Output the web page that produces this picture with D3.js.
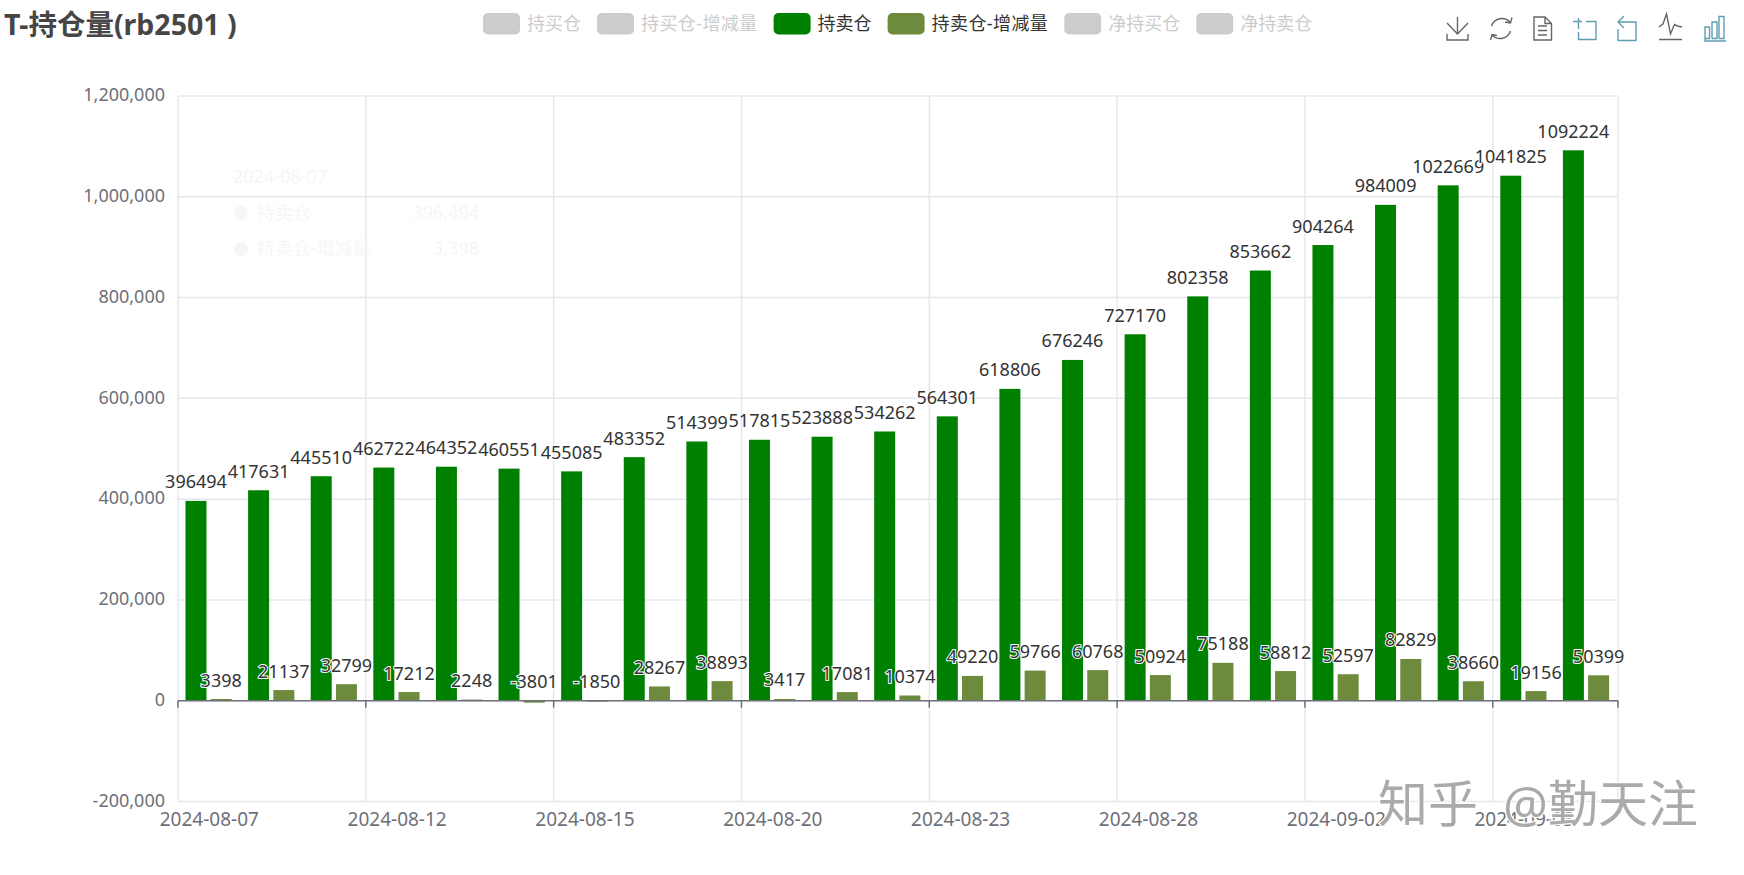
<!DOCTYPE html>
<html>
<head>
<meta charset="utf-8">
<title>T-持仓量(rb2501 )</title>
<script src="https://cdn.jsdelivr.net/npm/d3@7"></script>
<style>
html, body { margin: 0; padding: 0; background: #fff; }
svg { display: block; }
text { font-family: "Noto Sans", "Noto Sans CJK SC", sans-serif; }
</style>
</head>
<body>
<div id="chart"></div>
<script>
const dates = ["2024-08-07", "2024-08-08", "2024-08-09", "2024-08-12", "2024-08-13", "2024-08-14",
    "2024-08-15", "2024-08-16", "2024-08-19", "2024-08-20", "2024-08-21", "2024-08-22", "2024-08-23",
    "2024-08-26", "2024-08-27", "2024-08-28", "2024-08-29", "2024-08-30", "2024-09-02", "2024-09-03",
    "2024-09-04", "2024-09-05", "2024-09-06"];
const sellPosition = [396494, 417631, 445510, 462722, 464352, 460551, 455085, 483352, 514399, 517815,
    523888, 534262, 564301, 618806, 676246, 727170, 802358, 853662, 904264, 984009, 1022669, 1041825, 1092224];
const sellChange = [3398, 21137, 32799, 17212, 2248, -3801, -1850, 28267, 38893, 3417, 17081, 10374,
    49220, 59766, 60768, 50924, 75188, 58812, 52597, 82829, 38660, 19156, 50399];
const yTicks = [-200000, 0, 200000, 400000, 600000, 800000, 1000000, 1200000];
const xTickDates = ["2024-08-07", "2024-08-12", "2024-08-15", "2024-08-20", "2024-08-23", "2024-08-28", "2024-09-02", "2024-09-05"];
const legendNames = ["持买仓", "持买仓-增减量", "持卖仓", "持卖仓-增减量", "净持买仓", "净持卖仓"];
const legendColors = ["#ccc", "#ccc", "#008000", "#6e8b3d", "#ccc", "#ccc"];
const seriesNames = ["持卖仓", "持卖仓-增减量"];
const seriesValues = [sellPosition, sellChange];
const seriesColors = ["#008000", "#6e8b3d"];

const width = 1744, height = 875;
const margin = {top: 96, right: 126, bottom: 73.5, left: 178};
const axisColor = "#6e7079", gridColor = "#e4e8ee";
const commaFormat = d => d3.format(",")(d).replace("\u2212", "-");

const svg = d3.select("#chart").append("svg")
    .attr("width", width)
    .attr("height", height);

const x = d3.scaleBand()
    .domain(dates)
    .range([margin.left, width - margin.right]);

const x1 = d3.scaleBand()
    .domain(seriesNames)
    .range([0, x.bandwidth()])
    .paddingInner(0.167)
    .paddingOuter(0.325)
    .align(0.457);

const y = d3.scaleLinear()
    .domain([-200000, 1200000])
    .range([height - margin.bottom, margin.top]);

// split lines
const boundaries = xTickDates.map(d => x(d)).concat([x.range()[1]]);
svg.append("g").selectAll("line")
    .data(yTicks)
    .enter().append("line")
    .attr("x1", margin.left)
    .attr("x2", width - margin.right)
    .attr("y1", d => y(d))
    .attr("y2", d => y(d))
    .attr("stroke", gridColor)
    .attr("stroke-width", 1.5);
svg.append("g").selectAll("line")
    .data(boundaries)
    .enter().append("line")
    .attr("x1", d => d)
    .attr("x2", d => d)
    .attr("y1", margin.top)
    .attr("y2", y.range()[0])
    .attr("stroke", gridColor)
    .attr("stroke-width", 1.5);

// ghost of the tooltip that was fading out
const ghost = svg.append("g").attr("fill", "#f5f6f5").style("font-size", "18px");
ghost.append("text").attr("x", 233).attr("y", 183).text(dates[0]);
seriesNames.forEach((name, i) => {
    const rowY = 213 + i * 36;
    ghost.append("circle").attr("cx", 241).attr("cy", rowY).attr("r", 7);
    ghost.append("text").attr("x", 257).attr("y", rowY + 6).text(name);
    ghost.append("text").attr("x", 479).attr("y", rowY + 6).attr("text-anchor", "end")
        .text(commaFormat(seriesValues[i][0]));
});

// y axis
const yAxis = d3.axisLeft(y)
    .tickValues(yTicks)
    .tickSize(0)
    .tickPadding(13)
    .tickFormat(commaFormat);
const yG = svg.append("g")
    .attr("transform", `translate(${margin.left},0)`)
    .call(yAxis);
yG.select(".domain").remove();
yG.selectAll("text")
    .attr("fill", axisColor)
    .style("font-size", "18px")
    .attr("dy", "0.26em");

// x labels sit under the grid, ticks on the zero line
const xAxis = d3.axisBottom(x)
    .tickValues(xTickDates)
    .tickSize(0)
    .tickPadding(11);
const xG = svg.append("g")
    .attr("transform", `translate(0,${y.range()[0]})`)
    .call(xAxis);
xG.select(".domain").remove();
xG.selectAll("text")
    .attr("fill", axisColor)
    .style("font-size", "19px");

// bars
const rows = seriesNames.map((name, i) => seriesValues[i].map((v, j) => ({name: name, date: dates[j], value: v, color: seriesColors[i]})));
const barG = svg.append("g");
rows.forEach(row => {
    barG.selectAll(null)
        .data(row)
        .enter().append("rect")
        .attr("x", d => x(d.date) + x1(d.name))
        .attr("y", d => y(Math.max(0, d.value)))
        .attr("width", x1.bandwidth())
        .attr("height", d => Math.abs(y(d.value) - y(0)))
        .attr("fill", d => d.color);
});

// zero axis line and ticks
svg.append("line")
    .attr("x1", margin.left)
    .attr("x2", width - margin.right)
    .attr("y1", y(0))
    .attr("y2", y(0))
    .attr("stroke", axisColor)
    .attr("stroke-width", 1.5);
svg.append("g").selectAll("line")
    .data(boundaries)
    .enter().append("line")
    .attr("x1", d => d)
    .attr("x2", d => d)
    .attr("y1", y(0))
    .attr("y2", y(0) + 7)
    .attr("stroke", axisColor)
    .attr("stroke-width", 1.5);

// value labels
const labelG = svg.append("g");
rows.forEach(row => {
    labelG.selectAll(null)
        .data(row)
        .enter().append("text")
        .attr("x", d => x(d.date) + x1(d.name) + x1.bandwidth() / 2)
        .attr("y", d => y(Math.max(0, d.value)) - 12.5)
        .attr("text-anchor", "middle")
        .attr("fill", "#333")
        .attr("stroke", "#fff")
        .attr("stroke-width", 2)
        .attr("paint-order", "stroke")
        .style("font-size", "18px")
        .text(d => d.value);
});

// title
svg.append("text")
    .attr("x", 4)
    .attr("y", 35)
    .attr("fill", "#464646")
    .style("font-size", "28.5px")
    .style("font-weight", "bold")
    .text("T-持仓量(rb2501 )");

// legend
let legendX = 483;
legendNames.forEach((name, i) => {
    const on = legendColors[i] !== "#ccc";
    svg.append("rect")
        .attr("x", legendX)
        .attr("y", 13)
        .attr("width", 37)
        .attr("height", 21.5)
        .attr("rx", 5)
        .attr("fill", legendColors[i]);
    const t = svg.append("text")
        .attr("x", legendX + 44)
        .attr("y", 30)
        .attr("fill", on ? "#333" : "#ccc")
        .style("font-size", "18px")
        .style("letter-spacing", name.includes("-") ? "0.4px" : null)
        .text(name);
    legendX += 44 + t.node().getComputedTextLength() + 16;
});

// toolbox icons
const iconPaths = [
    {x: 1447, y: 17, c: "#666", d: "M10.5 0V17M0 6L10.5 17L21 6M0 17V23H21V17"},
    {x: 1490, y: 17, c: "#666", d: "M20 5A11 11 0 0 0 1.5 9M22 0.5L20.5 6L15 5M2 18A11 11 0 0 0 20.5 14M0.5 23L2 17.5L7 18.5"},
    {x: 1534, y: 17, c: "#666", d: "M0 0H11L17.5 6.5V23H0ZM11 0V6.5H17.5M4 9H13M4 13.5H13M4 18H13"},
    {x: 1573, y: 18, c: "#5f9db3", d: "M5.5 0V11M0 3.5H9M13 3.5H23V21.5H5.5V14"},
    {x: 1618, y: 16, c: "#5f9db3", d: "M0 6H18V24.5H0V13M6 0L0 6L6 12"},
    {x: 1659, y: 14, c: "#666", d: "M0 13L4 10L7.5 0L11.5 20L15.5 10.5L18.5 12L23 13M0 25.5H23"},
    {x: 1704, y: 16, c: "#5f9db3", d: "M1 24V11H5.5V22.5H1M8 22.5V6H13V22.5H8M15 22.5V0.5H20V22.5H15M0 25H22"}
];
svg.append("g").selectAll("path")
    .data(iconPaths)
    .enter().append("path")
    .attr("transform", d => `translate(${d.x},${d.y})`)
    .attr("d", d => d.d)
    .attr("fill", "none")
    .attr("stroke", d => d.c)
    .attr("stroke-width", 1.4);

// watermark on top of everything
svg.append("text")
    .attr("x", 1378)
    .attr("y", 822)
    .attr("fill", "#aaa")
    .attr("stroke", "#fff")
    .attr("stroke-width", 2.5)
    .attr("paint-order", "stroke")
    .style("font-size", "50px")
    .style("word-spacing", "12px")
    .text("知乎 @勤天注");
</script>
</body>
</html>
